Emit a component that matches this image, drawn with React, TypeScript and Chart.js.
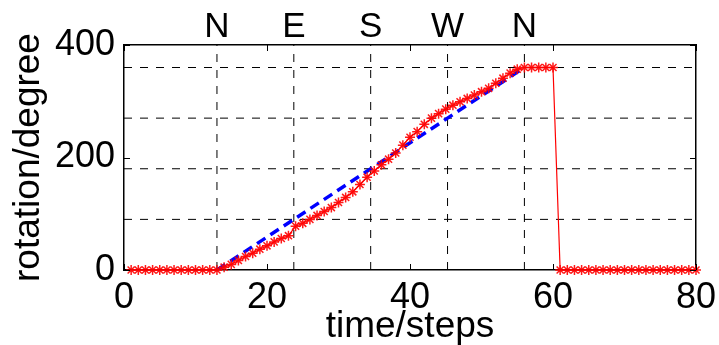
import React, { useEffect, useRef } from 'react';
import { Chart, registerables } from 'chart.js';

Chart.register(...registerables);

// ---- data ----
const measuredRotation: number[] = [
  0, 0, 0, 0, 0, 0, 0, 0, 0, 0, 0, 0, 0,
  5, 10, 17, 24, 30, 37, 43, 50, 56, 61,
  78, 83, 90, 97, 104, 111, 120, 129, 139, 152,
  165, 176, 187, 197, 208, 222, 236, 246, 259, 270,
  278, 286, 293, 299, 305, 311, 317, 323, 332, 341,
  350, 357, 360, 360, 360, 360, 360,
  0, 0, 0, 0, 0, 0, 0, 0, 0, 0, 0, 0, 0, 0, 0, 0, 0, 0, 0, 0,
];
const timeSteps: number[] = measuredRotation.map((_, i) => i + 1);
const idealSteps: number[] = [13, 56];
const idealRotation: number[] = [0, 360];
const directionSteps: number[] = [13, 23.75, 34.5, 45.25, 56];
const directionLabels: string[] = ['N', 'E', 'S', 'W', 'N'];
const referenceAngles: number[] = [90, 180, 270, 360];
const xTicks: number[] = [0, 20, 40, 60, 80];
const yTicks: number[] = [0, 200, 400];

const FONT = "'Liberation Sans', Arial, Helvetica, sans-serif";

const tickMarks = {
  id: 'tickMarks',
  afterDraw(chart: any) {
    const { ctx, chartArea: a, scales } = chart;
    const len = 6;
    ctx.save();
    ctx.strokeStyle = '#000';
    ctx.lineWidth = 1;
    ctx.beginPath();
    xTicks.forEach((v) => {
      const px = Math.round(scales.x.getPixelForValue(v)) + 0.5;
      ctx.moveTo(px, a.bottom);
      ctx.lineTo(px, a.bottom - len);
      ctx.moveTo(px, a.top);
      ctx.lineTo(px, a.top + len);
    });
    yTicks.forEach((v) => {
      const py = Math.round(scales.y.getPixelForValue(v)) + 0.5;
      ctx.moveTo(a.left, py);
      ctx.lineTo(a.left + len, py);
      ctx.moveTo(a.right, py);
      ctx.lineTo(a.right - len, py);
    });
    ctx.stroke();
    ctx.restore();
  },
};

export default function App() {
  const ref = useRef<HTMLCanvasElement | null>(null);

  useEffect(() => {
    if (!ref.current) return;
    const refStyle = {
      borderColor: '#000',
      borderWidth: 1,
      borderDash: [8, 8],
      pointRadius: 0,
      fill: false,
    };
    const hLines = referenceAngles.map((v) => ({
      ...refStyle,
      data: [
        { x: 0, y: v },
        { x: 80, y: v },
      ],
    }));
    const vLines = directionSteps.map((s) => ({
      ...refStyle,
      data: [
        { x: s, y: 0 },
        { x: s, y: 400 },
      ],
    }));

    const noPad = (s: any) => {
      s.paddingLeft = 0;
      s.paddingRight = 0;
      s.paddingTop = 0;
      s.paddingBottom = 0;
    };

    const chart = new Chart(ref.current, {
      type: 'line',
      data: {
        datasets: [
          {
            data: timeSteps.map((t, i) => ({ x: t, y: measuredRotation[i] })),
            borderColor: '#ff0000',
            borderWidth: 1.2,
            pointStyle: 'star',
            pointRadius: 5,
            pointBorderColor: 'rgba(255,0,0,0.9)',
            pointBorderWidth: 1.5,
            pointBackgroundColor: '#ff0000',
            fill: false,
            clip: false as any,
          },
          {
            data: idealSteps.map((t, i) => ({ x: t, y: idealRotation[i] })),
            borderColor: '#0000ff',
            borderWidth: 3.5,
            borderDash: [10, 6],
            pointRadius: 0,
            fill: false,
          },
          ...hLines,
          ...vLines,
        ] as any,
      },
      options: {
        responsive: false,
        animation: false,
        events: [],
        layout: { padding: 0 },
        plugins: {
          legend: { display: false },
          tooltip: { enabled: false },
        },
        scales: {
          x: {
            type: 'linear',
            position: 'bottom',
            min: 0,
            max: 80,
            afterBuildTicks: (s: any) => {
              s.ticks = xTicks.map((v) => ({ value: v }));
            },
            afterFit: (s: any) => {
              s.height = 75;
              noPad(s);
            },
            grid: { display: true, drawOnChartArea: false, drawTicks: false },
            border: { display: true, color: '#000', width: 1.5 },
            ticks: {
              color: '#000',
              padding: 10,
              maxRotation: 0,
              autoSkip: false,
              font: { family: FONT, size: 36, lineHeight: 1 },
            },
            title: {
              display: true,
              text: 'time/steps',
              color: '#000',
              padding: { top: 0, bottom: 0 },
              font: { family: FONT, size: 37, lineHeight: 1 },
            },
          },
          xTop: {
            type: 'linear',
            position: 'top',
            min: 0,
            max: 80,
            afterBuildTicks: (s: any) => {
              s.ticks = directionSteps.map((v) => ({ value: v }));
            },
            afterFit: (s: any) => {
              s.height = 45;
              noPad(s);
            },
            grid: { display: true, drawOnChartArea: false, drawTicks: false },
            border: { display: true, color: '#000', width: 1.5 },
            ticks: {
              color: '#000',
              padding: 0,
              maxRotation: 0,
              autoSkip: false,
              font: { family: FONT, size: 35, lineHeight: 1 },
              callback: (_v: any, i: number) => directionLabels[i],
            },
          },
          y: {
            type: 'linear',
            position: 'left',
            min: 0,
            max: 400,
            afterBuildTicks: (s: any) => {
              s.ticks = yTicks.map((v) => ({ value: v }));
            },
            afterFit: (s: any) => {
              s.width = 124;
              noPad(s);
            },
            grid: { display: true, drawOnChartArea: false, drawTicks: false },
            border: { display: true, color: '#000', width: 1.5 },
            ticks: {
              color: '#000',
              padding: 9,
              font: { family: FONT, size: 36, lineHeight: 1 },
            },
            title: {
              display: true,
              text: 'rotation/degree',
              color: '#000',
              padding: { top: 10, bottom: 0 },
              font: { family: FONT, size: 37, lineHeight: 1 },
            },
          },
          yRight: {
            type: 'linear',
            position: 'right',
            min: 0,
            max: 400,
            afterFit: (s: any) => {
              s.width = 23;
              noPad(s);
            },
            grid: { display: true, drawOnChartArea: false, drawTicks: false },
            border: { display: true, color: '#000', width: 1.5 },
            ticks: { display: false },
          },
        },
      } as any,
      plugins: [tickMarks],
    });
    return () => chart.destroy();
  }, []);

  return (
    <div style={{ position: 'fixed', left: 0, top: 0, width: 719, height: 345, background: '#fff' }}>
      <canvas ref={ref} width={719} height={345} style={{ display: 'block' }} />
    </div>
  );
}
